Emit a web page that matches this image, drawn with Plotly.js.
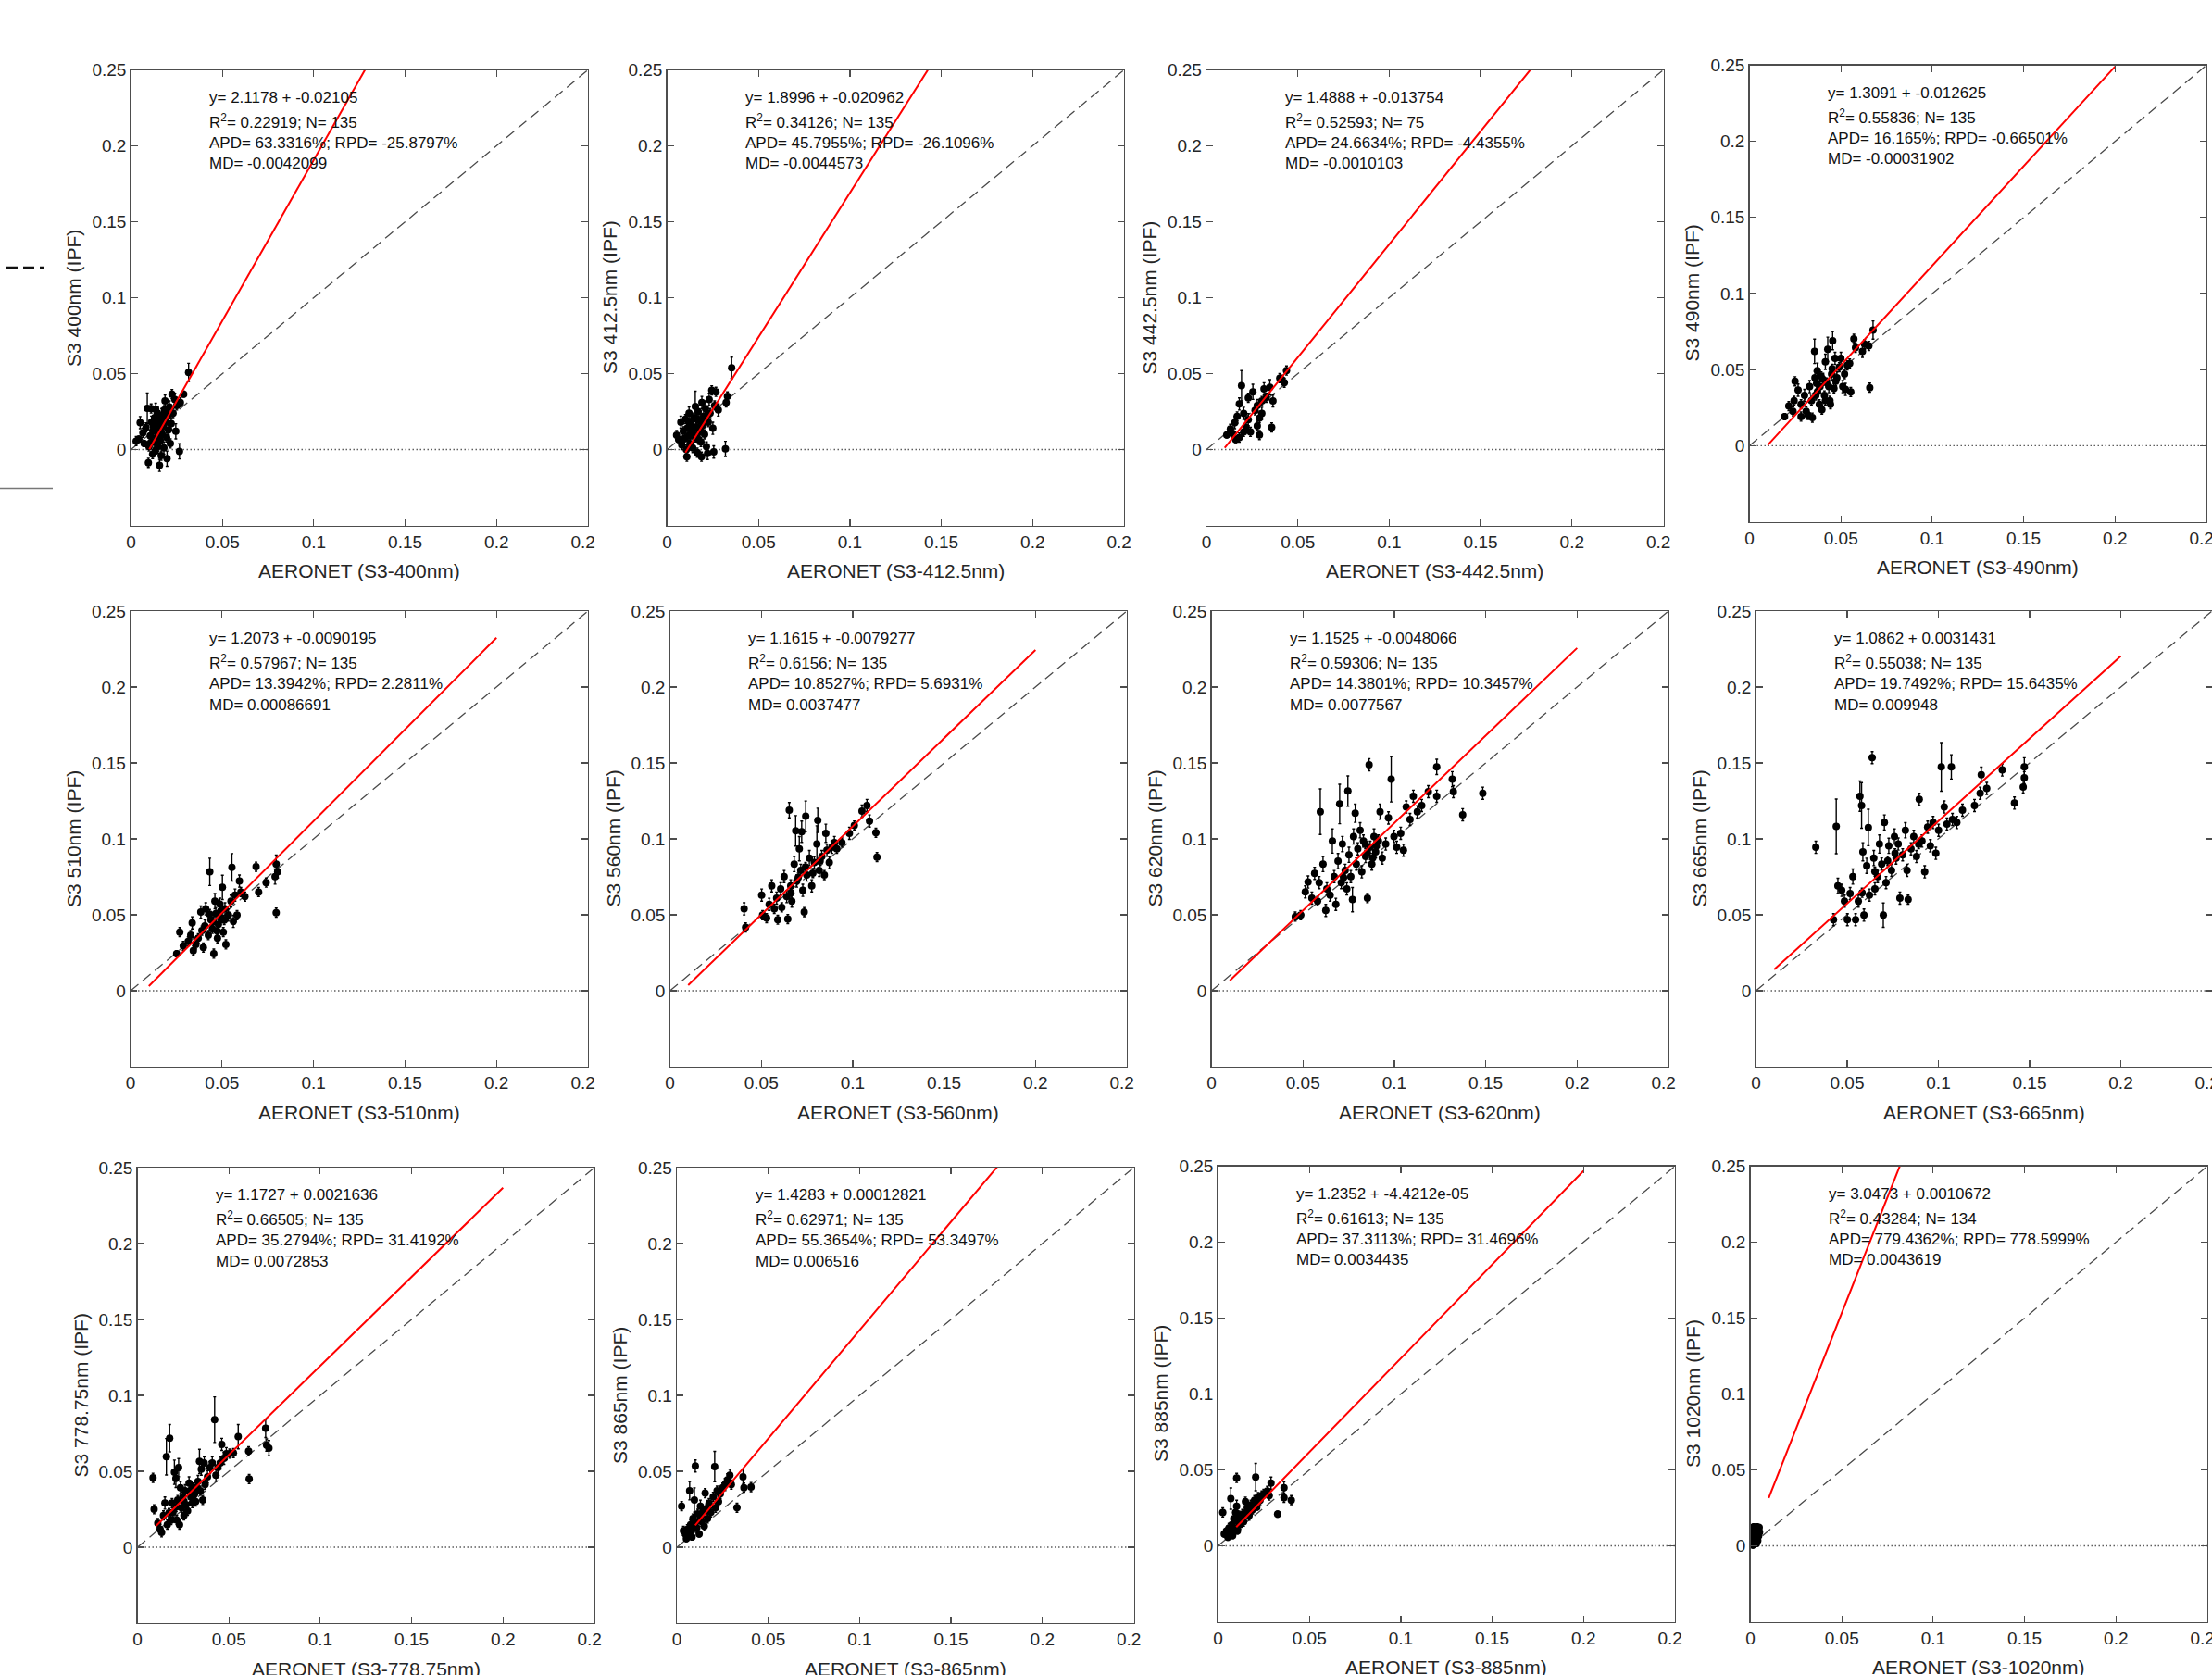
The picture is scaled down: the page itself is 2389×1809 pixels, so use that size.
<!DOCTYPE html>
<html><head><meta charset="utf-8">
<script src="https://cdn.plot.ly/plotly-3.0.1.min.js"></script>
<style>html,body{margin:0;padding:0;background:#fff}#chart{width:2389px;height:1809px}</style>
</head><body><div id="chart"></div>
<script>
// ---------- DATA ----------
const bands = ['400','412.5','442.5','490','510','560','620','665','778.75','865','885','1020'];
const slopeText = ['2.1178','1.8996','1.4888','1.3091','1.2073','1.1615','1.1525','1.0862','1.1727','1.4283','1.2352','3.0473'];
const interceptText = ['-0.02105','-0.020962','-0.013754','-0.012625','-0.0090195','-0.0079277','-0.0048066','0.0031431','0.0021636','0.00012821','-4.4212e-05','0.0010672'];
const r2Text = ['0.22919','0.34126','0.52593','0.55836','0.57967','0.6156','0.59306','0.55038','0.66505','0.62971','0.61613','0.43284'];
const nText = ['135','135','75','135','135','135','135','135','135','135','135','134'];
const apdText = ['63.3316','45.7955','24.6634','16.165','13.3942','10.8527','14.3801','19.7492','35.2794','55.3654','37.3113','779.4362'];
const rpdText = ['-25.8797','-26.1096','-4.4355','-0.66501','2.2811','5.6931','10.3457','15.6435','31.4192','53.3497','31.4696','778.5999'];
const mdText = ['-0.0042099','-0.0044573','-0.0010103','-0.00031902','0.00086691','0.0037477','0.0077567','0.009948','0.0072853','0.006516','0.0034435','0.0043619'];
const xTickVals = [0,0.05,0.1,0.15,0.2,0.25];
// the last label (0.25) is shown truncated to "0.2" in the reference
const xTickText = ['0','0.05','0.1','0.15','0.2','0.2\u00a0\u00a0'];
const yTickVals = [0,0.05,0.1,0.15,0.2,0.25];
const yTickText = ['0','0.05','0.1','0.15','0.2','0.25'];

// [AERONET, S3 (IPF), error]
const p400 = [[0.0028,0.0055,0.003],[0.0043,0.0068,0.002],[0.005,0.0177,0.004],[0.0065,0.011,0.003],[0.0072,0.004,0.002],[0.0082,0.0145,0.003],[0.0089,0.0272,0.010],[0.0095,-0.0087,0.003],[0.0098,0.002,0.003],[0.0105,0.009,0.004],[0.011,0.027,0.003],[0.0112,0.018,0.004],[0.0118,-0.003,0.003],[0.012,0.012,0.003],[0.0125,0.005,0.004],[0.013,0.021,0.003],[0.0133,-0.001,0.002],[0.0138,0.016,0.005],[0.014,0.008,0.003],[0.0145,0.024,0.004],[0.0148,0.002,0.003],[0.015,0.013,0.003],[0.0156,-0.0104,0.004],[0.0158,0.019,0.003],[0.016,0.006,0.004],[0.0165,-0.004,0.003],[0.0168,0.022,0.005],[0.017,0.01,0.003],[0.0175,0.015,0.004],[0.018,0.001,0.004],[0.0183,0.026,0.003],[0.0186,0.032,0.004],[0.019,0.018,0.003],[0.0195,0.008,0.003],[0.0197,-0.006,0.005],[0.02,0.022,0.004],[0.0205,0.013,0.003],[0.021,0.028,0.004],[0.0215,0.004,0.003],[0.022,0.017,0.004],[0.0224,0.0365,0.003],[0.023,0.024,0.003],[0.024,0.033,0.004],[0.0245,0.012,0.005],[0.025,0.029,0.003],[0.0265,-0.0012,0.005],[0.027,0.031,0.003],[0.0288,0.0365,0.002],[0.0315,0.0508,0.006],[0.0122,0.0155,0.003],[0.0142,0.0195,0.003],[0.0162,0.0125,0.003],[0.0178,0.0205,0.003],[0.0108,0.0045,0.003],[0.0152,0.0085,0.003],[0.0192,0.0245,0.003],[0.0135,0.0265,0.004]];
const p412 = [[0.0052,0.0095,0.003],[0.0063,0.0065,0.002],[0.0075,0.018,0.004],[0.008,0.003,0.003],[0.0088,0.012,0.003],[0.0095,0.007,0.004],[0.01,0.02,0.003],[0.0105,0.0,0.003],[0.0108,-0.0047,0.003],[0.011,0.014,0.004],[0.0118,0.009,0.003],[0.012,0.024,0.004],[0.0125,0.004,0.003],[0.013,0.017,0.003],[0.0135,0.011,0.004],[0.014,0.001,0.003],[0.0145,0.021,0.003],[0.0154,0.0284,0.010],[0.0155,0.008,0.003],[0.016,0.015,0.004],[0.0165,-0.002,0.003],[0.017,0.025,0.004],[0.0175,0.012,0.003],[0.018,0.019,0.005],[0.0185,0.005,0.003],[0.0188,-0.0047,0.003],[0.019,0.031,0.004],[0.0195,0.016,0.003],[0.02,0.022,0.004],[0.0205,0.01,0.003],[0.021,0.027,0.005],[0.0215,0.002,0.003],[0.0221,-0.0026,0.004],[0.0225,0.018,0.003],[0.023,0.033,0.004],[0.0235,0.024,0.003],[0.0244,0.039,0.003],[0.025,0.014,0.004],[0.0255,-0.0016,0.004],[0.026,0.029,0.003],[0.0267,0.038,0.003],[0.028,0.026,0.004],[0.0319,0.0004,0.005],[0.0323,0.031,0.003],[0.033,0.035,0.003],[0.0353,0.0538,0.007],[0.0142,0.0135,0.003],[0.0162,0.0205,0.003],[0.0182,0.0125,0.003],[0.0202,0.0175,0.003],[0.0122,0.0175,0.003],[0.0172,0.0065,0.003],[0.0212,0.0215,0.003]];
const p442 = [[0.0111,0.0096,0.002],[0.0131,0.0136,0.003],[0.0143,0.0106,0.003],[0.0155,0.0177,0.004],[0.016,0.0065,0.002],[0.0168,0.0218,0.003],[0.018,0.0079,0.003],[0.018,0.030,0.004],[0.0192,0.042,0.010],[0.0204,0.0238,0.004],[0.0204,0.0116,0.003],[0.0217,0.0146,0.003],[0.0229,0.0197,0.004],[0.0229,0.034,0.003],[0.0241,0.0116,0.003],[0.0254,0.038,0.005],[0.0266,0.0258,0.003],[0.0278,0.0156,0.003],[0.0278,0.029,0.004],[0.029,0.0096,0.003],[0.029,0.0207,0.003],[0.0303,0.0238,0.004],[0.0303,0.032,0.003],[0.0315,0.040,0.004],[0.0327,0.034,0.003],[0.0347,0.041,0.005],[0.0357,0.0146,0.003],[0.0364,0.032,0.004],[0.0401,0.047,0.003],[0.0413,0.046,0.003],[0.0426,0.044,0.003],[0.0438,0.052,0.003]];
const p490 = [[0.0192,0.0191,0.002],[0.0215,0.026,0.003],[0.0238,0.0226,0.003],[0.0249,0.0423,0.003],[0.0244,0.0295,0.003],[0.0266,0.0365,0.004],[0.0282,0.0191,0.003],[0.0282,0.0272,0.003],[0.0301,0.033,0.004],[0.031,0.0226,0.003],[0.032,0.0202,0.003],[0.0329,0.0388,0.004],[0.0339,0.0295,0.003],[0.0344,0.0184,0.003],[0.0356,0.062,0.008],[0.0358,0.0447,0.004],[0.0363,0.033,0.003],[0.0367,0.041,0.004],[0.0371,0.0493,0.005],[0.0382,0.0272,0.003],[0.0386,0.0388,0.004],[0.0396,0.0237,0.003],[0.0402,0.0435,0.004],[0.041,0.033,0.003],[0.0415,0.0551,0.005],[0.0415,0.0295,0.003],[0.0428,0.0633,0.008],[0.0434,0.0388,0.004],[0.044,0.0295,0.003],[0.0443,0.0272,0.003],[0.0449,0.047,0.004],[0.0455,0.069,0.006],[0.0462,0.0377,0.003],[0.0468,0.0574,0.004],[0.0478,0.0447,0.004],[0.0491,0.0516,0.003],[0.05,0.0574,0.004],[0.051,0.0388,0.004],[0.052,0.047,0.003],[0.0525,0.037,0.004],[0.0535,0.0528,0.003],[0.0548,0.054,0.003],[0.0554,0.0353,0.003],[0.0571,0.0702,0.003],[0.058,0.0644,0.003],[0.0618,0.062,0.004],[0.063,0.0667,0.003],[0.0653,0.0656,0.003],[0.0658,0.0381,0.003],[0.0676,0.076,0.006],[0.0392,0.0455,0.003],[0.0422,0.0415,0.003],[0.0452,0.0505,0.003],[0.0372,0.0355,0.003],[0.0472,0.0425,0.003]];
const p510 = [[0.0252,0.0244,0.002],[0.0269,0.0386,0.003],[0.0288,0.0295,0.003],[0.0315,0.0325,0.003],[0.0329,0.0366,0.003],[0.0337,0.0447,0.004],[0.0343,0.0264,0.003],[0.0357,0.0305,0.003],[0.037,0.0346,0.003],[0.0384,0.0518,0.004],[0.039,0.0396,0.003],[0.0398,0.0285,0.003],[0.0406,0.0427,0.004],[0.0411,0.0539,0.004],[0.0425,0.0366,0.003],[0.0433,0.0783,0.009],[0.0439,0.0468,0.004],[0.0447,0.0407,0.003],[0.0455,0.0244,0.003],[0.0461,0.059,0.005],[0.0466,0.0508,0.004],[0.0475,0.0346,0.003],[0.048,0.0437,0.004],[0.0488,0.057,0.004],[0.0494,0.0478,0.003],[0.0502,0.0681,0.008],[0.0507,0.0386,0.003],[0.0516,0.0539,0.004],[0.0521,0.0305,0.003],[0.0535,0.0498,0.004],[0.0549,0.059,0.004],[0.0554,0.0813,0.009],[0.0562,0.0457,0.004],[0.0571,0.063,0.004],[0.0582,0.0498,0.003],[0.0595,0.0722,0.004],[0.0603,0.065,0.003],[0.0625,0.062,0.003],[0.0686,0.0817,0.003],[0.07,0.065,0.003],[0.0741,0.0712,0.003],[0.079,0.0752,0.005],[0.0796,0.0834,0.006],[0.0804,0.0783,0.004],[0.0796,0.0514,0.003],[0.0452,0.0455,0.003],[0.0492,0.0525,0.003],[0.0432,0.0505,0.003],[0.0512,0.0465,0.003],[0.0472,0.0395,0.003]];
const p560 = [[0.0406,0.0539,0.004],[0.0414,0.0417,0.003],[0.0502,0.063,0.004],[0.0507,0.0498,0.003],[0.0529,0.0478,0.003],[0.0543,0.0569,0.004],[0.0557,0.0691,0.004],[0.0571,0.0539,0.003],[0.0584,0.061,0.004],[0.059,0.0468,0.003],[0.0606,0.0671,0.004],[0.0612,0.0549,0.003],[0.0625,0.0752,0.004],[0.0639,0.062,0.004],[0.0645,0.0472,0.003],[0.0653,0.1189,0.005],[0.0661,0.0691,0.004],[0.0667,0.059,0.004],[0.068,0.0834,0.005],[0.0688,0.1053,0.010],[0.0694,0.0722,0.004],[0.0708,0.0935,0.008],[0.0716,0.0793,0.004],[0.0721,0.1047,0.007],[0.0727,0.0661,0.004],[0.0735,0.0518,0.003],[0.0743,0.1149,0.010],[0.0749,0.0762,0.004],[0.0763,0.0874,0.005],[0.0776,0.0691,0.004],[0.079,0.0844,0.004],[0.0804,0.0966,0.012],[0.0809,0.1122,0.008],[0.0817,0.0793,0.004],[0.0831,0.0884,0.004],[0.0845,0.0762,0.003],[0.0853,0.1037,0.006],[0.0859,0.0925,0.004],[0.0872,0.0844,0.004],[0.0886,0.0945,0.004],[0.09,0.0976,0.004],[0.0913,0.0935,0.003],[0.0941,0.0976,0.003],[0.0982,0.1037,0.004],[0.1009,0.1088,0.003],[0.1051,0.1183,0.004],[0.1078,0.122,0.004],[0.1092,0.1118,0.004],[0.1127,0.1041,0.003],[0.1133,0.088,0.003],[0.0702,0.0745,0.003],[0.0742,0.0815,0.003],[0.0782,0.0775,0.003],[0.0662,0.0645,0.003],[0.0822,0.0855,0.003]];
const p620 = [[0.0458,0.0488,0.003],[0.0488,0.0498,0.003],[0.0513,0.0651,0.004],[0.0528,0.0716,0.004],[0.0549,0.061,0.004],[0.0564,0.0773,0.004],[0.058,0.059,0.003],[0.0589,0.0712,0.004],[0.0595,0.1179,0.015],[0.061,0.0834,0.005],[0.0625,0.0529,0.004],[0.0631,0.0671,0.004],[0.0649,0.063,0.004],[0.0661,0.0986,0.008],[0.0671,0.0752,0.004],[0.068,0.0569,0.004],[0.0692,0.0854,0.005],[0.0701,0.123,0.013],[0.071,0.0712,0.004],[0.0716,0.0966,0.005],[0.0731,0.0793,0.004],[0.074,0.0671,0.004],[0.0746,0.1315,0.010],[0.0752,0.0895,0.005],[0.0762,0.0752,0.004],[0.0771,0.06,0.008],[0.0777,0.1016,0.005],[0.0786,0.1169,0.006],[0.0792,0.0834,0.004],[0.08,0.0935,0.004],[0.0813,0.1057,0.005],[0.0822,0.0783,0.004],[0.0831,0.0986,0.004],[0.0843,0.0884,0.004],[0.0853,0.061,0.003],[0.0862,0.1488,0.004],[0.0868,0.0945,0.004],[0.0877,0.0834,0.004],[0.0889,0.1016,0.005],[0.0898,0.0915,0.004],[0.0913,0.0986,0.004],[0.0922,0.1179,0.005],[0.0934,0.0874,0.004],[0.0953,0.0966,0.004],[0.0968,0.1138,0.004],[0.0983,0.1393,0.015],[0.0998,0.1016,0.004],[0.1013,0.0945,0.004],[0.1035,0.1037,0.004],[0.105,0.0925,0.004],[0.1065,0.121,0.004],[0.1086,0.1128,0.004],[0.1104,0.1281,0.004],[0.1126,0.1179,0.004],[0.115,0.122,0.004],[0.1186,0.1311,0.004],[0.1232,0.1474,0.005],[0.1232,0.1281,0.004],[0.1317,0.1393,0.005],[0.1323,0.1311,0.004],[0.1374,0.1159,0.004],[0.1484,0.1301,0.004],[0.0852,0.0905,0.003],[0.0882,0.0875,0.003],[0.0902,0.0955,0.003],[0.0842,0.0965,0.003],[0.0722,0.0745,0.003]];
const p665 = [[0.0328,0.0945,0.004],[0.0425,0.0468,0.004],[0.044,0.1082,0.018],[0.0449,0.0691,0.005],[0.047,0.0661,0.004],[0.0485,0.059,0.004],[0.0501,0.0468,0.004],[0.0516,0.064,0.004],[0.0531,0.0752,0.005],[0.0546,0.0468,0.004],[0.0561,0.059,0.004],[0.057,0.1281,0.010],[0.0579,0.122,0.015],[0.0586,0.0915,0.006],[0.0592,0.0498,0.004],[0.0607,0.0823,0.005],[0.0616,0.1075,0.012],[0.0622,0.063,0.004],[0.0637,0.1535,0.004],[0.0646,0.0874,0.005],[0.0652,0.0671,0.004],[0.0667,0.0752,0.004],[0.0677,0.0966,0.006],[0.0689,0.0834,0.004],[0.0698,0.0498,0.008],[0.0704,0.1108,0.005],[0.0713,0.0712,0.004],[0.0728,0.0955,0.005],[0.0743,0.0793,0.004],[0.0759,0.1016,0.005],[0.0768,0.0874,0.004],[0.078,0.0966,0.004],[0.0789,0.061,0.004],[0.0804,0.0895,0.004],[0.0819,0.1057,0.005],[0.0828,0.0793,0.004],[0.0834,0.06,0.003],[0.085,0.0935,0.004],[0.0865,0.1016,0.004],[0.088,0.0884,0.004],[0.0895,0.126,0.004],[0.091,0.0986,0.004],[0.0925,0.0783,0.004],[0.0941,0.1077,0.004],[0.0956,0.0955,0.004],[0.0971,0.1108,0.004],[0.0986,0.0905,0.004],[0.1001,0.1057,0.004],[0.1016,0.1474,0.016],[0.1032,0.121,0.004],[0.1047,0.1098,0.004],[0.1071,0.1474,0.008],[0.1077,0.1128,0.004],[0.1101,0.1108,0.004],[0.1132,0.1189,0.004],[0.1198,0.122,0.004],[0.1229,0.1301,0.004],[0.1235,0.1423,0.005],[0.1265,0.1332,0.004],[0.135,0.1454,0.004],[0.1417,0.1236,0.004],[0.1465,0.1342,0.004],[0.1471,0.1403,0.004],[0.1471,0.1474,0.006],[0.0722,0.0855,0.003],[0.0762,0.0905,0.003],[0.0652,0.0785,0.003],[0.0892,0.0965,0.003],[0.0582,0.0645,0.003]];
const p778 = [[0.0085,0.0457,0.003],[0.0091,0.025,0.003],[0.0111,0.0159,0.003],[0.0124,0.0118,0.003],[0.0132,0.0098,0.003],[0.0142,0.0209,0.003],[0.015,0.0291,0.004],[0.0158,0.0596,0.012],[0.0163,0.0148,0.003],[0.0176,0.0718,0.009],[0.0184,0.0179,0.003],[0.0189,0.0291,0.003],[0.0194,0.023,0.003],[0.0202,0.0494,0.008],[0.021,0.0453,0.006],[0.0215,0.0179,0.003],[0.022,0.0311,0.003],[0.0225,0.0524,0.006],[0.023,0.0148,0.003],[0.0235,0.0392,0.004],[0.0241,0.026,0.003],[0.0248,0.0331,0.003],[0.0254,0.0209,0.003],[0.0261,0.0372,0.004],[0.0266,0.0281,0.003],[0.0274,0.024,0.003],[0.0282,0.0423,0.004],[0.0292,0.0331,0.003],[0.03,0.0291,0.003],[0.0305,0.0392,0.003],[0.0313,0.0352,0.003],[0.0318,0.0301,0.003],[0.0331,0.0433,0.004],[0.0339,0.0565,0.008],[0.0344,0.0372,0.003],[0.0349,0.0514,0.004],[0.0357,0.0311,0.003],[0.0365,0.0555,0.004],[0.037,0.0413,0.003],[0.0383,0.0464,0.004],[0.0396,0.0524,0.004],[0.0409,0.0555,0.004],[0.0422,0.084,0.015],[0.0429,0.0474,0.004],[0.044,0.0524,0.004],[0.0453,0.0555,0.004],[0.0461,0.0677,0.004],[0.0473,0.0586,0.004],[0.0486,0.0616,0.004],[0.0504,0.0616,0.003],[0.0525,0.062,0.003],[0.0551,0.0728,0.008],[0.0608,0.0632,0.003],[0.0611,0.0449,0.003],[0.0701,0.0783,0.006],[0.0706,0.0673,0.004],[0.0719,0.0653,0.005],[0.0172,0.0225,0.003],[0.0212,0.0265,0.003],[0.0252,0.0305,0.003],[0.0292,0.0375,0.003],[0.0322,0.0395,0.003]];
const p865 = [[0.0026,0.027,0.003],[0.0036,0.0108,0.003],[0.0047,0.0087,0.002],[0.0052,0.0057,0.002],[0.0057,0.0118,0.003],[0.0065,0.0077,0.002],[0.007,0.0372,0.006],[0.0075,0.0148,0.003],[0.0083,0.0067,0.002],[0.0088,0.0189,0.003],[0.0096,0.0311,0.008],[0.0101,0.0535,0.004],[0.0109,0.0128,0.003],[0.0114,0.022,0.003],[0.0122,0.0087,0.002],[0.0129,0.027,0.004],[0.0135,0.0169,0.003],[0.0142,0.023,0.003],[0.015,0.0138,0.003],[0.0155,0.0356,0.003],[0.016,0.025,0.003],[0.0168,0.0189,0.003],[0.0176,0.0291,0.003],[0.0186,0.023,0.003],[0.0199,0.0331,0.003],[0.0207,0.0531,0.010],[0.0212,0.026,0.003],[0.022,0.0372,0.003],[0.0228,0.0301,0.003],[0.0238,0.0352,0.003],[0.0251,0.0392,0.003],[0.0264,0.0413,0.004],[0.0277,0.0443,0.004],[0.029,0.0474,0.004],[0.0298,0.0413,0.003],[0.0329,0.026,0.003],[0.0362,0.0464,0.005],[0.0367,0.0392,0.003],[0.0406,0.0396,0.003],[0.0082,0.0115,0.002],[0.0102,0.0165,0.002],[0.0132,0.0205,0.002],[0.0172,0.0245,0.002],[0.0062,0.0095,0.002]];
const p885 = [[0.0026,0.022,0.003],[0.0034,0.0077,0.002],[0.0046,0.0098,0.002],[0.0054,0.0057,0.002],[0.006,0.0118,0.003],[0.0066,0.0087,0.002],[0.007,0.0311,0.007],[0.0076,0.0138,0.003],[0.008,0.0067,0.002],[0.0086,0.0179,0.003],[0.009,0.0118,0.003],[0.0096,0.022,0.004],[0.0102,0.0447,0.003],[0.0102,0.026,0.004],[0.0106,0.0098,0.002],[0.0114,0.0199,0.003],[0.012,0.0138,0.003],[0.0126,0.0179,0.003],[0.0134,0.0209,0.003],[0.014,0.0159,0.003],[0.015,0.0291,0.003],[0.0154,0.022,0.003],[0.016,0.025,0.003],[0.017,0.0199,0.003],[0.018,0.027,0.003],[0.019,0.024,0.003],[0.02,0.0301,0.003],[0.0206,0.0453,0.009],[0.021,0.0281,0.003],[0.022,0.0321,0.003],[0.023,0.0301,0.003],[0.024,0.0331,0.003],[0.025,0.0342,0.003],[0.027,0.0362,0.003],[0.028,0.0331,0.003],[0.029,0.0413,0.004],[0.0326,0.0209,0.002],[0.0361,0.0382,0.004],[0.0361,0.0317,0.003],[0.0401,0.0301,0.003],[0.0072,0.0095,0.002],[0.0112,0.0155,0.002],[0.0162,0.0215,0.002],[0.0212,0.0255,0.002],[0.0052,0.0085,0.002]];
const p1020 = [[0.0005,0.002,0.002],[0.0008,0.006,0.002],[0.001,0.011,0.002],[0.0012,0.004,0.002],[0.0015,0.008,0.002],[0.0016,0.0015,0.002],[0.0018,0.0125,0.002],[0.002,0.005,0.002],[0.0022,0.009,0.002],[0.0024,0.003,0.002],[0.0026,0.007,0.002],[0.0028,0.011,0.002],[0.003,0.0045,0.002],[0.0032,0.0095,0.002],[0.0034,0.006,0.002],[0.0036,0.0125,0.002],[0.0038,0.008,0.002],[0.004,0.0035,0.002],[0.0042,0.01,0.002],[0.0045,0.0065,0.002],[0.0048,0.012,0.002],[0.005,0.009,0.002],[0.0006,0.0095,0.002],[0.0013,0.0005,0.002],[0.0033,0.0015,0.002]];

const panelData = [p400,p412,p442,p490,p510,p560,p620,p665,p778,p865,p885,p1020];

// ---------- LAYOUT GEOMETRY (pixel boxes: left, right, top, bottom) ----------
const W = 2389, H = 1809;
const boxes = [
  [141.5,635,75.5,567.5],[720.5,1214,75.5,567.5],[1303,1796.5,75.5,567.5],[1889.5,2383,70.5,563.5],
  [141,635,660,1152],[723.5,1217,660,1152],[1308.5,1802,660,1152],[1896.5,2389,660,1152],
  [148.5,642,1261,1753],[731,1224.5,1261,1753],[1315.5,1809,1259.5,1751.5],[1890.5,2384,1259.5,1751.5]
];

const FONT = 'Liberation Sans, Arial, Helvetica, sans-serif';
const AX = '#4d4d4d', TXT = '#262626';

const traces = [];
const layout = {
  width: W, height: H, margin: {l:0, r:0, t:0, b:0},
  paper_bgcolor: '#fff', plot_bgcolor: '#fff', showlegend: false,
  font: {family: FONT, color: TXT},
  annotations: [], shapes: []
};

panelData.forEach((pts, i) => {
  const n = i + 1;
  const sfx = n === 1 ? '' : String(n);
  const xa = 'x' + sfx, ya = 'y' + sfx;
  const [L, R, T, B] = boxes[i];
  const common = {
    showgrid: false, zeroline: false, showline: true, mirror: 'ticks',
    linecolor: AX, linewidth: 1.3, ticks: 'inside', ticklen: 7, tickwidth: 1.2, tickcolor: AX,
    tickfont: {family: FONT, size: 19, color: TXT}, fixedrange: true, automargin: false,
    ticklabeloverflow: 'allow'
  };
  layout['xaxis' + sfx] = Object.assign({}, common, {
    domain: [L / W, Math.min(1, R / W)], anchor: ya, range: [0, 0.25],
    tickmode: 'array', tickvals: xTickVals, ticktext: xTickText
  });
  layout['yaxis' + sfx] = Object.assign({}, common, {
    domain: [1 - B / H, 1 - T / H], anchor: xa, range: [-0.05, 0.25],
    tickmode: 'array', tickvals: yTickVals, ticktext: yTickText
  });

  // zero reference (dotted)
  traces.push({x: [0, 0.25], y: [0, 0], xaxis: xa, yaxis: ya, mode: 'lines',
    line: {color: '#5e5e5e', width: 1.3, dash: '1.5px,2.5px'}, hoverinfo: 'skip'});
  // 1:1 line (dashed)
  traces.push({x: [0, 0.25], y: [0, 0.25], xaxis: xa, yaxis: ya, mode: 'lines',
    line: {color: '#4a4a4a', width: 1.3, dash: '11px,6px'}, hoverinfo: 'skip'});
  // match-ups with error bars
  traces.push({x: pts.map(p => p[0]), y: pts.map(p => p[1]), xaxis: xa, yaxis: ya, mode: 'markers',
    marker: {color: '#000', size: 8},
    error_y: {type: 'data', array: pts.map(p => p[2]), visible: true, color: '#000', thickness: 1.4, width: 1.5}});
  // regression line
  const s = parseFloat(slopeText[i]), c = parseFloat(interceptText[i]);
  traces.push({x: [0.01, 0.2], y: [0.01 * s + c, 0.2 * s + c], xaxis: xa, yaxis: ya, mode: 'lines',
    line: {color: '#ff0000', width: 2}, hoverinfo: 'skip'});

  // statistics text
  const lines = [
    'y= ' + slopeText[i] + ' + ' + interceptText[i],
    'R<sup>2</sup>= ' + r2Text[i] + '; N= ' + nText[i],
    'APD= ' + apdText[i] + '%; RPD= ' + rpdText[i] + '%',
    'MD= ' + mdText[i]
  ];
  const ly = [0.2319, 0.2162, 0.2021, 0.1884];
  lines.forEach((t, k) => {
    layout.annotations.push({xref: xa, yref: ya, x: 0.0418, y: ly[k], text: t, showarrow: false,
      xanchor: 'left', yanchor: 'middle', font: {family: FONT, size: 17, color: '#111'}});
  });
  // axis titles
  layout.annotations.push({xref: 'paper', yref: 'paper', x: (L + R) / 2 / W, y: 1 - (B + 49) / H,
    text: 'AERONET (S3-' + bands[i] + 'nm)', showarrow: false, xanchor: 'center', yanchor: 'middle',
    font: {family: FONT, size: 21, color: TXT}});
  layout.annotations.push({xref: 'paper', yref: 'paper', x: (L - 62) / W, y: 1 - ((T + B) / 2) / H,
    text: 'S3 ' + bands[i] + 'nm (IPF)', textangle: -90, showarrow: false, xanchor: 'center', yanchor: 'middle',
    font: {family: FONT, size: 21, color: TXT}});
});

// cropped legend fragments at the left edge
layout.shapes.push({type: 'line', xref: 'paper', yref: 'paper', x0: 7 / W, x1: 47 / W, y0: 1 - 289 / H, y1: 1 - 289 / H,
  line: {color: '#111', width: 2.5, dash: '12px,6px'}});
layout.shapes.push({type: 'line', xref: 'paper', yref: 'paper', x0: 0, x1: 57 / W, y0: 1 - 527.5 / H, y1: 1 - 527.5 / H,
  line: {color: '#777', width: 1.5}});

Plotly.newPlot('chart', traces, layout, {staticPlot: true, displayModeBar: false});
</script>
</body></html>
